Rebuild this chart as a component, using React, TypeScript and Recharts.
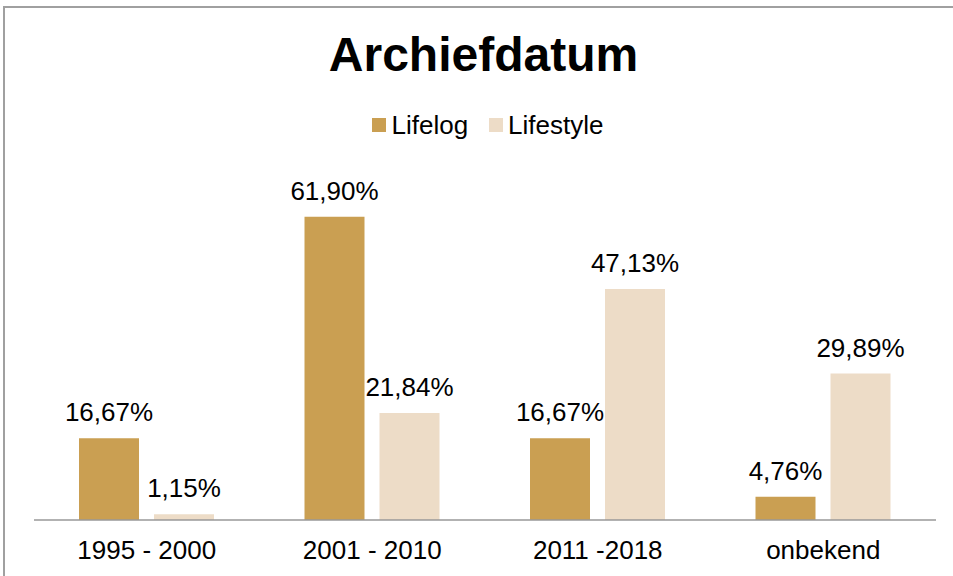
import { Bar, BarChart, LabelList, XAxis, YAxis } from "recharts"

const CATEGORIES = ['1995 - 2000', '2001 - 2010', '2011 -2018', 'onbekend']
const LIFELOG = [16.67, 61.90, 16.67, 4.76]
const LIFESTYLE = [1.15, 21.84, 47.13, 29.89]

const COLORS = { lifelog: '#CA9F52', lifestyle: '#EDDCC7' }
const FONT = '"Liberation Sans", Arial, sans-serif'

const data = CATEGORIES.map((name, i) => ({
  name,
  lifelog: LIFELOG[i],
  lifestyle: LIFESTYLE[i],
}))

const fmt = (v: number) => v.toFixed(2).replace('.', ',') + '%'

export default function App() {
  return (
    <div style={{ position: 'absolute', left: 0, top: 0, width: 953, height: 576, background: '#fff', fontFamily: FONT, overflow: 'hidden' }}>
      <div style={{ position: 'absolute', left: 3, top: 6, width: 960, height: 580, borderLeft: '2px solid #a0a0a0', borderTop: '2px solid #a0a0a0' }} />
      <div style={{ position: 'absolute', left: 0, width: 967, top: 29, textAlign: 'center', fontSize: 48, fontWeight: 'bold', lineHeight: '52px' }}>
        Archiefdatum
      </div>
      <div style={{ position: 'absolute', left: 0, width: 976, top: 110, display: 'flex', justifyContent: 'center', alignItems: 'center', fontSize: 26, lineHeight: '30px' }}>
        <span style={{ width: 14, height: 14, background: COLORS.lifelog, marginRight: 5 }} />
        <span style={{ marginRight: 21 }}>Lifelog</span>
        <span style={{ width: 14, height: 14, background: COLORS.lifestyle, marginRight: 5 }} />
        <span>Lifestyle</span>
      </div>
      <div style={{ position: 'absolute', left: 0, top: 0 }}>
        <BarChart width={953} height={576} data={data} margin={{ top: 177, right: 17, bottom: 0, left: 34 }} barSize={60} barGap={15}>
          <XAxis
            dataKey="name"
            height={56}
            tickLine={false}
            tickSize={0}
            tickMargin={21}
            axisLine={{ stroke: '#999', strokeWidth: 1.5 }}
            tick={{ fill: '#000', fontSize: 26, fontFamily: FONT }}
            interval={0}
          />
          <YAxis hide domain={[0, 70]} />
          <Bar dataKey="lifelog" fill={COLORS.lifelog} isAnimationActive={false}>
            <LabelList dataKey="lifelog" position="top" offset={17} formatter={(v: any) => fmt(Number(v))} style={{ fill: '#000', fontSize: 26, fontFamily: FONT }} />
          </Bar>
          <Bar dataKey="lifestyle" fill={COLORS.lifestyle} isAnimationActive={false}>
            <LabelList dataKey="lifestyle" position="top" offset={17} formatter={(v: any) => fmt(Number(v))} style={{ fill: '#000', fontSize: 26, fontFamily: FONT }} />
          </Bar>
        </BarChart>
      </div>
    </div>
  )
}
